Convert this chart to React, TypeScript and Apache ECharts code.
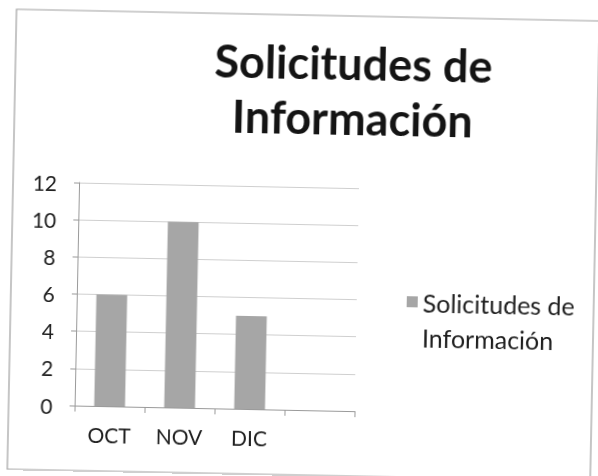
import React, { useEffect, useRef } from "react";
import * as echarts from "echarts";

const categories = ["OCT", "NOV", "DIC", ""];
const seriesName = "Solicitudes de Información";
const values = [6, 10, 5, null];
const yTicks = { min: 0, max: 12, interval: 2 };
const titleText = "Solicitudes de\nInformación";

export default function App() {
  const ref = useRef<HTMLDivElement>(null);
  useEffect(() => {
    if (!ref.current) return;
    const chart = echarts.init(ref.current, undefined, { renderer: "svg" });
    const font = "Lato, 'Open Sans', sans-serif";
    chart.setOption({
      animation: false,
      backgroundColor: "transparent",
      textStyle: { fontFamily: font },
      title: {
        text: titleText,
        left: 350,
        top: 34,
        padding: 0,
        textAlign: "center",
        textStyle: {
          fontFamily: font,
          fontSize: 45,
          fontWeight: "bold",
          color: "#141414",
          lineHeight: 55,
        },
      },
      legend: {
        left: 403,
        top: 242,
        orient: "vertical",
        itemWidth: 11,
        itemHeight: 11,
        icon: "rect",
        itemGap: 6,
        formatter: (n: string) => {
          const parts = n.split(" de ");
          return "{s| }\n{a|" + parts[0] + " de}\n{a|" + parts[1] + "}";
        },
        textStyle: {
          fontFamily: font,
          fontSize: 25,
          color: "#1e1e1e",
          lineHeight: 35,
          rich: {
            a: { fontFamily: font, fontSize: 25, color: "#1e1e1e", lineHeight: 35 },
            s: { fontSize: 25, lineHeight: 35 },
          },
        },
      },
      graphic: [
        {
          type: "rect",
          shape: { x: 12, y: 15, width: 583, height: 460 },
          style: { fill: "none", stroke: "#a0a0a0", lineWidth: 1.2 },
          silent: true,
        },
      ],
      grid: { left: 78, right: 240, top: 187, bottom: 66 },
      xAxis: {
        type: "category",
        data: categories,
        axisLine: { show: true, lineStyle: { color: "#9a9a9a" } },
        axisTick: { show: true, length: 6, lineStyle: { color: "#9a9a9a" } },
        axisLabel: { fontFamily: font, fontSize: 21, color: "#1e1e1e", margin: 18 },
      },
      yAxis: {
        type: "value",
        min: yTicks.min,
        max: yTicks.max,
        interval: yTicks.interval,
        axisLine: { show: true, lineStyle: { color: "#9a9a9a" } },
        axisTick: { show: true, length: 5, lineStyle: { color: "#9a9a9a" } },
        axisLabel: { fontFamily: font, fontSize: 21, color: "#1e1e1e", margin: 22 },
        splitLine: { lineStyle: { color: "#cfcfcf" } },
      },
      series: [
        {
          name: seriesName,
          type: "bar",
          data: values,
          barWidth: "44%",
          itemStyle: { color: "#a6a6a6" },
        },
      ],
    });
    return () => chart.dispose();
  }, []);
  return (
    <div
      ref={ref}
      style={{
        position: "fixed",
        left: 0,
        top: 0,
        width: 598,
        height: 476,
        transform: "rotate(1.15deg)",
        transformOrigin: "299px 238px",
      }}
    />
  );
}
